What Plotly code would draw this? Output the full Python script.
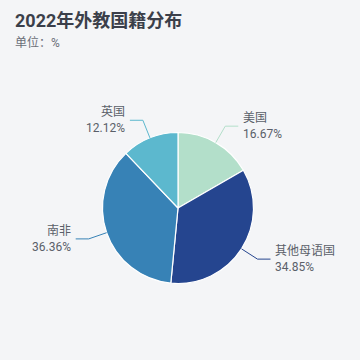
import math
import plotly.graph_objects as go

# ---- data ----
categories = ["美国", "其他母语国", "南非", "英国"]
values = [16.67, 34.85, 36.36, 12.12]
colors = ["#b3dfca", "#25458f", "#3782b6", "#5cb8ce"]

title_text = "2022年外教国籍分布"
subtitle_text = "单位：%"

# ---- layout constants (pixels) ----
W = H = 360
CX, CY, R = 178, 208, 75.5
L1, L2, GAP = 19, 13, 3
BG = "#f4f5f7"
FONT = "Roboto, 'Noto Sans CJK SC', sans-serif"

def px(x):
    return x / W

def py(y):
    return 1 - y / H

fig = go.Figure()
fig.add_trace(go.Pie(
    labels=categories,
    values=values,
    sort=False,
    direction="clockwise",
    rotation=0,
    marker=dict(colors=colors, line=dict(color="white", width=1.2)),
    textinfo="none",
    hoverinfo="label+percent",
    showlegend=False,
    domain=dict(x=[px(CX - R), px(CX + R)], y=[py(CY + R), py(CY - R)]),
))

total = sum(values)
cum = 0.0
shapes = []
annotations = []
for cat, v, col in zip(categories, values, colors):
    mid = (cum + v / 2) / total * 2 * math.pi
    cum += v
    sx, sy = math.sin(mid), -math.cos(mid)
    x0, y0 = CX + R * sx, CY + R * sy
    x1, y1 = CX + (R + L1) * sx, CY + (R + L1) * sy
    side = 1 if sx >= 0 else -1
    x2, y2 = x1 + side * L2, y1
    path = f"M {px(x0)} {py(y0)} L {px(x1)} {py(y1)} L {px(x2)} {py(y2)}"
    shapes.append(dict(type="path", xref="paper", yref="paper", path=path,
                       line=dict(color=col, width=1)))
    pct = v / total * 100
    annotations.append(dict(
        x=px(x2 + side * GAP), y=py(y2), xref="paper", yref="paper",
        text=f"{cat}<br>{pct:.2f}%", showarrow=False,
        xanchor="left" if side > 0 else "right", yanchor="middle",
        align="left" if side > 0 else "right",
        font=dict(size=12, color="#5a5f69", family=FONT),
    ))

annotations.append(dict(
    x=px(13), y=py(20), xref="paper", yref="paper", text=f"<b>{title_text}</b>",
    showarrow=False, xanchor="left", yanchor="middle",
    font=dict(size=18, color="#3b3f4a", family=FONT),
))
annotations.append(dict(
    x=px(13), y=py(42), xref="paper", yref="paper", text=subtitle_text,
    showarrow=False, xanchor="left", yanchor="middle",
    font=dict(size=12, color="#6b6f78", family=FONT),
))

fig.update_layout(
    width=W, height=H,
    margin=dict(l=0, r=0, t=0, b=0),
    paper_bgcolor=BG, plot_bgcolor=BG,
    shapes=shapes, annotations=annotations,
)

fig.write_html("out.html", config={"displayModeBar": False})
